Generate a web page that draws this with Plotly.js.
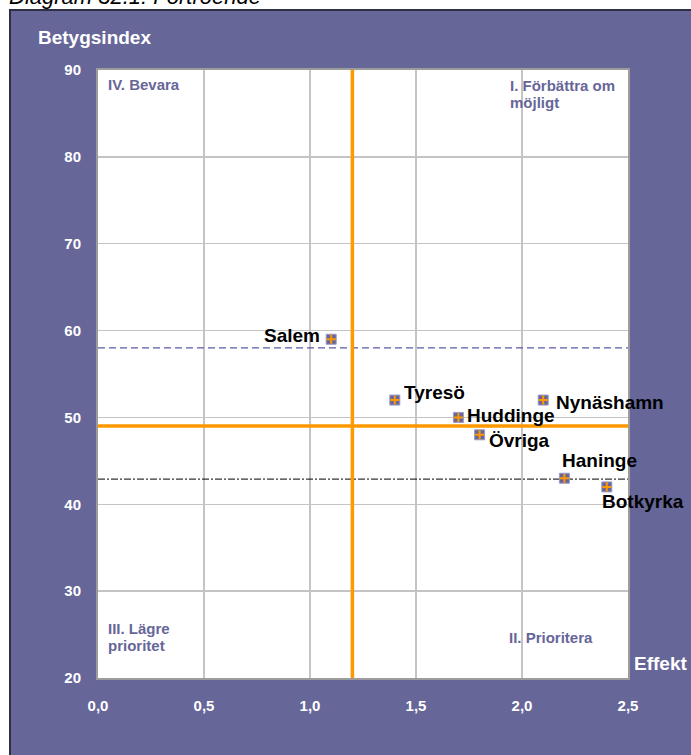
<!DOCTYPE html>
<html>
<head>
<meta charset="utf-8">
<script src="https://cdn.plot.ly/plotly-3.0.1.min.js"></script>
<style>html,body{margin:0;padding:0;background:#fff;overflow:hidden}#chart{width:691px;height:755px}</style>
</head>
<body>
<div id="chart"></div>
<script>
// ---- data ----
const municipalities = ["Salem", "Tyresö", "Huddinge", "Nynäshamn", "Övriga", "Haninge", "Botkyrka"];
const effekt = [1.1, 1.4, 1.7, 2.1, 1.8, 2.2, 2.4];
const betygsindex = [59, 52, 50, 52, 48, 43, 42];
const effektDivider = 1.2;      // vertical orange line
const indexDivider = 49;        // horizontal orange line
const upperRefIndex = 58;       // dashed blue line
const lowerRefIndex = 42.9;     // dash-dot black line
const xRange = [0, 2.5];
const yRange = [20, 90];
const quadrantTexts = ["IV. Bevara", "I. Förbättra om", "möjligt", "III. Lägre", "prioritet", "II. Prioritera"];
const chartTitle = "Diagram 32.1: Förtroende";
const yTitle = "Betygsindex";
const xTitle = "Effekt";

// ---- layout helpers (pixel -> paper) ----
const W = 691, H = 755;
const M = {l: 98, r: 63, t: 70, b: 77};
const PW = W - M.l - M.r, PH = H - M.t - M.b;
const xp = px => (px - M.l) / PW;
const yp = py => (H - M.b - py) / PH;

const FONT = "Liberation Sans, Arial, Helvetica, sans-serif";
const PURPLE = "#666699";
const ORANGE = "#ff9900";

// label offsets (pixels) for each municipality label, in order of the arrays
const labelShift = [[-39, 4], [40, 7.5], [53, 2], [66.5, -2], [40, -6], [35, 18], [36, -14.5]];

const traces = [
  {x: xRange, y: [upperRefIndex, upperRefIndex], mode: "lines", line: {color: "#5a5aa6", width: 1.2, dash: "7px,4px"}, hoverinfo: "skip", showlegend: false},
  {x: xRange, y: [lowerRefIndex, lowerRefIndex], mode: "lines", line: {color: "#000000", width: 1, dash: "7px,2px,2px,2px"}, hoverinfo: "skip", showlegend: false},
  {x: [effektDivider, effektDivider], y: yRange, mode: "lines", line: {color: ORANGE, width: 3.5}, hoverinfo: "skip", showlegend: false},
  {x: xRange, y: [indexDivider, indexDivider], mode: "lines", line: {color: ORANGE, width: 3.5}, hoverinfo: "skip", showlegend: false},
  {x: effekt, y: betygsindex, mode: "markers", marker: {symbol: "square", size: 10, color: PURPLE, line: {color: "#9a9acc", width: 1}}, hoverinfo: "skip", showlegend: false, cliponaxis: false},
  {x: effekt, y: betygsindex, mode: "markers", marker: {symbol: "cross-thin", size: 6.5, color: ORANGE, line: {color: ORANGE, width: 2}}, hoverinfo: "skip", showlegend: false, cliponaxis: false}
];

const annotations = [];
municipalities.forEach((name, i) => {
  annotations.push({x: effekt[i], y: betygsindex[i], xref: "x", yref: "y", text: name, showarrow: false,
    xanchor: "center", yanchor: "middle", xshift: labelShift[i][0], yshift: labelShift[i][1],
    font: {family: FONT, size: 19, color: "#000000", weight: "bold"}});
});
const quadPos = [[106, 84.5], [508, 85.3], [508, 102.4], [106, 628], [106, 645.7], [507, 637]];
quadrantTexts.forEach((t, i) => {
  annotations.push({x: xp(quadPos[i][0]), y: yp(quadPos[i][1]), xref: "paper", yref: "paper", text: t, showarrow: false,
    xanchor: "left", yanchor: "middle", font: {family: FONT, size: 15, color: PURPLE, weight: "bold"}});
});
annotations.push({x: xp(36), y: yp(37), xref: "paper", yref: "paper", text: yTitle, showarrow: false,
  xanchor: "left", yanchor: "middle", font: {family: FONT, size: 19, color: "#ffffff", weight: "bold"}});
annotations.push({x: xp(632), y: yp(663), xref: "paper", yref: "paper", text: xTitle, showarrow: false,
  xanchor: "left", yanchor: "middle", font: {family: FONT, size: 19, color: "#ffffff", weight: "bold"}});
annotations.push({x: xp(7), y: yp(-4), xref: "paper", yref: "paper", text: chartTitle, showarrow: false,
  xanchor: "left", yanchor: "middle", font: {family: FONT, size: 22, color: "#000000", style: "italic"}});

const layout = {
  width: W, height: H,
  margin: M,
  paper_bgcolor: "#ffffff",
  plot_bgcolor: "rgba(0,0,0,0)",
  separators: ", ",
  showlegend: false,
  hovermode: false,
  xaxis: {range: xRange, dtick: 0.5, tick0: 0, tickformat: ".1f", showgrid: true, gridcolor: "#c4c4c4", gridwidth: 1.5,
    zeroline: false, showline: true, mirror: true, linecolor: "#9c9c9c", linewidth: 2, ticks: "",
    ticklabelstandoff: 13, tickfont: {family: FONT, size: 15, color: "#ffffff", weight: "bold"}, fixedrange: true},
  yaxis: {range: yRange, dtick: 10, tick0: 20, showgrid: true, gridcolor: "#c4c4c4", gridwidth: 1.5,
    zeroline: false, showline: true, mirror: true, linecolor: "#9c9c9c", linewidth: 2, ticks: "",
    ticklabelstandoff: 12, tickfont: {family: FONT, size: 15, color: "#ffffff", weight: "bold"}, fixedrange: true},
  shapes: [
    {type: "rect", xref: "paper", yref: "paper", x0: xp(10), x1: 1.5, y0: -0.5, y1: yp(10), layer: "below",
      fillcolor: PURPLE, line: {color: "#2e2e44", width: 2}},
    {type: "rect", xref: "paper", yref: "paper", x0: 0, x1: 1, y0: 0, y1: 1, layer: "below",
      fillcolor: "#ffffff", line: {width: 0}}
  ],
  annotations: annotations
};

Plotly.newPlot("chart", traces, layout, {displayModeBar: false, staticPlot: true});
</script>
</body>
</html>
